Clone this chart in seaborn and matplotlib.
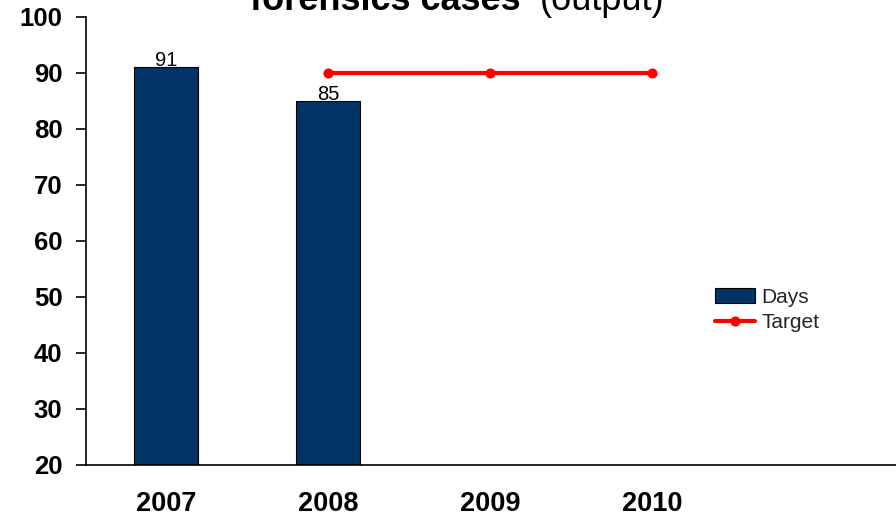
import matplotlib
matplotlib.use("Agg")
import matplotlib.pyplot as plt
import seaborn as sns
import pandas as pd
import numpy as np

# Data
years = ["2007", "2008", "2009", "2010"]
days = [91, 85, np.nan, np.nan]
target_years = ["2008", "2009", "2010"]
target = [90, 90, 90]

sns.set_theme(style="white")
plt.rcParams["font.family"] = ["Liberation Sans", "DejaVu Sans"]

fig = plt.figure(figsize=(8.96, 5.18), dpi=100)
ax = fig.add_axes([86 / 896, 53 / 518, 810 / 896, 448 / 518])

bars_df = pd.DataFrame({"year": years, "days": days})
target_df = pd.DataFrame({"year": target_years, "target": target})

sns.barplot(data=bars_df, x="year", y="days", order=years, color="#003366",
            saturation=1, width=0.4, edgecolor="black", linewidth=0.8,
            label="Days", ax=ax)
sns.pointplot(data=target_df, x="year", y="target", order=years, color="#ff0000",
              errorbar=None, markersize=5, linewidth=3, label="Target", ax=ax)

# value labels on bars
for i, v in enumerate(days):
    if not np.isnan(v):
        ax.text(i, v + 0.25, f"{v:.0f}", ha="center", va="baseline",
                fontsize=14.5, color="black")

ax.set_ylim(20, 100)
ax.set_xlim(-0.494, 4.506)
ax.set_yticks(range(20, 101, 10))
ax.set_xlabel("")
ax.set_ylabel("")

for s in ["top", "right"]:
    ax.spines[s].set_visible(False)
for s in ["left", "bottom"]:
    ax.spines[s].set_color("black")
    ax.spines[s].set_linewidth(1.2)

ax.tick_params(axis="y", length=7, width=1.2, color="black", pad=10,
               left=True, labelsize=18.5)
ax.tick_params(axis="x", length=0, pad=19, labelsize=19.5)
for lab in ax.get_xticklabels() + ax.get_yticklabels():
    lab.set_fontweight("bold")
    lab.set_color("black")

handles, labels = ax.get_legend_handles_labels()
order = [labels.index("Days"), labels.index("Target")]
ax.legend([handles[i] for i in order], [labels[i] for i in order],
          loc="center left", bbox_to_anchor=(0.754, 0.346),
          frameon=False, fontsize=15, handlelength=1.9, handletextpad=0.3,
          labelspacing=0.3)

# title, partly above the top edge
fig.text(250 / 896, 1 - 10 / 518, "forensics cases", ha="left", va="baseline",
         fontsize=26, fontweight="bold", color="black")
fig.text(540 / 896, 1 - 10 / 518, "(output)", ha="left", va="baseline",
         fontsize=26, color="black")

fig.savefig("out.png", dpi=100)
